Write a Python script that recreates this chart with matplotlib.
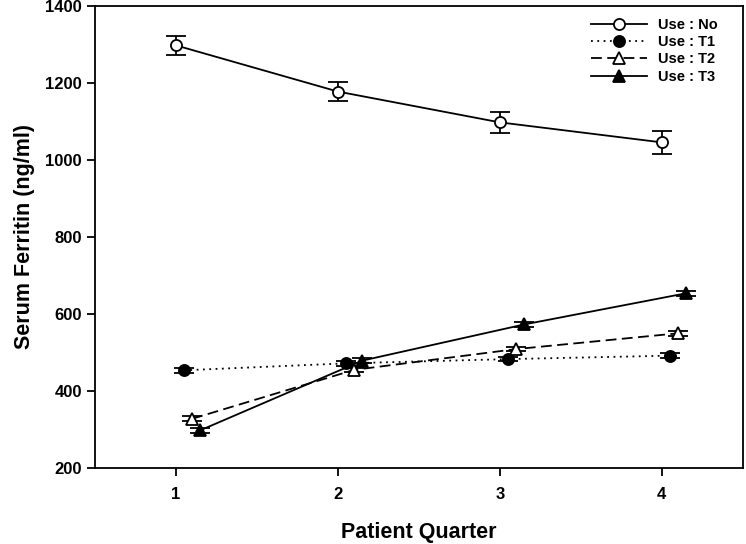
import matplotlib.pyplot as plt
import numpy as np

plt.rcParams['font.family'] = ['Liberation Sans', 'DejaVu Sans']
plt.rcParams['font.weight'] = 'bold'

quarters = [1, 2, 3, 4]
labels = ['Use : No', 'Use : T1', 'Use : T2', 'Use : T3']
offsets = [0.0, 0.05, 0.10, 0.15]

use_no = [1297, 1177, 1097, 1045]
use_no_err = [24, 25, 28, 30]
use_t1 = [453, 471, 482, 491]
use_t1_err = [6, 6, 5, 6]
use_t2 = [327, 454, 508, 549]
use_t2_err = [6, 6, 6, 6]
use_t3 = [297, 478, 572, 653]
use_t3_err = [6, 6, 6, 6]

series = [use_no, use_t1, use_t2, use_t3]
errs = [use_no_err, use_t1_err, use_t2_err, use_t3_err]
styles = [
    dict(marker='o', mfc='white', ls='-'),
    dict(marker='o', mfc='black', ls=(0, (1, 2.5))),
    dict(marker='^', mfc='white', ls=(0, (6, 3))),
    dict(marker='^', mfc='black', ls='-'),
]

fig = plt.figure(figsize=(7.46, 5.44), dpi=100)
ax = fig.add_axes([0.1273, 0.1403, 0.8683, 0.8492])

for vals, err, off, st, lab in zip(series, errs, offsets, styles, labels):
    x = np.array(quarters) + off
    ax.errorbar(x, vals, yerr=err, color='black', lw=1.3, ls=st['ls'],
                marker=st['marker'], ms=8, mfc=st['mfc'], mec='black', mew=1.3,
                capsize=7, capthick=1.3, elinewidth=1.3, label=lab)

ax.set_xlim(0.5, 4.5)
ax.set_ylim(200, 1400)
ax.set_xticks(quarters)
ax.set_yticks(range(200, 1401, 200))
ax.tick_params(direction='out', length=6, width=1.3, labelsize=12, top=False, right=False)
ax.tick_params(axis='x', pad=8)
for s in ax.spines.values():
    s.set_linewidth(1.3)
ax.set_xlabel('Patient Quarter', fontsize=15.5, fontweight='bold', labelpad=14)
ax.set_ylabel('Serum Ferritin (ng/ml)', fontsize=15.5, fontweight='bold', labelpad=7)

handles, labs = ax.get_legend_handles_labels()
handles = [h[0] for h in handles]
leg = ax.legend(handles, labs, loc='upper right', bbox_to_anchor=(0.971, 0.986),
                frameon=False, fontsize=10.5, handlelength=3.8, labelspacing=0.22,
                borderaxespad=0, handletextpad=0.8)
for t in leg.get_texts():
    t.set_fontweight('bold')

fig.savefig('out.png', dpi=100)
